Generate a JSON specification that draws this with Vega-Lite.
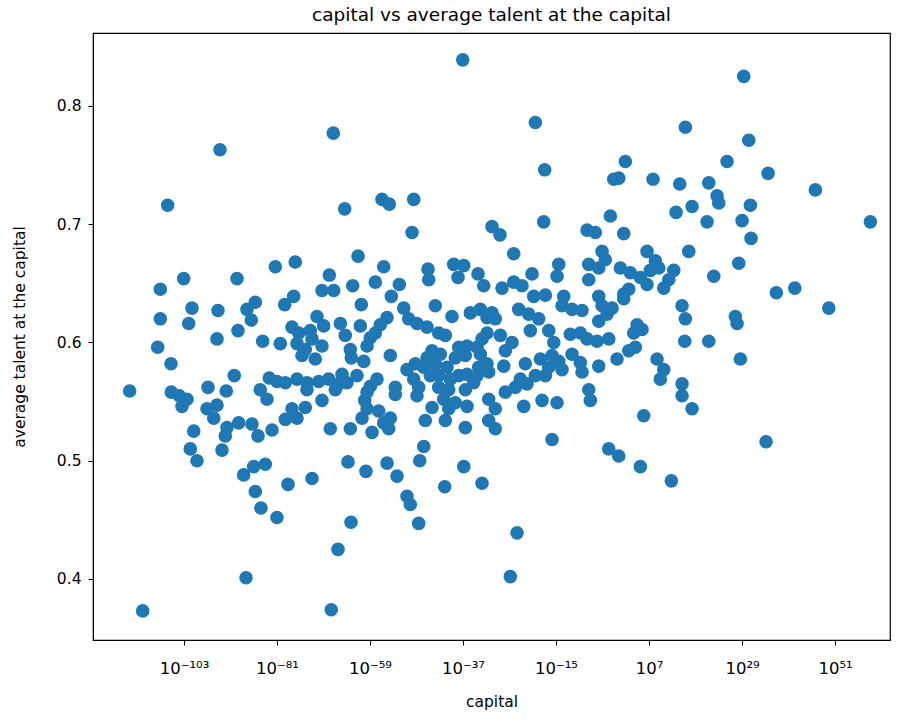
{
"$schema":"https://vega.github.io/schema/vega-lite/v6.json",
"autosize":"none",
"width":797,"height":607,
"padding":{"left":93,"top":33,"right":29,"bottom":85},
"background":"white",
"config":{"font":"DejaVu Sans","view":{"stroke":"black","strokeWidth":1.2},
 "axis":{"grid":false,"domainColor":"black","tickColor":"black","labelColor":"black","titleColor":"black","labelFont":"DejaVu Sans","titleFont":"DejaVu Sans","labelFontSize":15.5,"titleFontSize":15.5,"titleFontWeight":"normal","tickSize":5,"labelPadding":5}},
"title":{"text":"capital vs average talent at the capital","fontSize":18.5,"fontWeight":"normal","font":"DejaVu Sans","color":"black","offset":9},
"data":{"values":[
{"capital":1.4e-116,"talent":0.559},{"capital":1.7e-113,"talent":0.373},{"capital":6e-110,"talent":0.596},{"capital":2.5e-109,"talent":0.645},{"capital":2.5e-109,"talent":0.620},{"capital":1.4e-107,"talent":0.716},{"capital":8.4e-107,"talent":0.582},{"capital":9.9e-107,"talent":0.558},{"capital":7.7e-105,"talent":0.555},{"capital":3.4e-104,"talent":0.546},{"capital":8.5e-104,"talent":0.654},{"capital":5.1e-103,"talent":0.552},{"capital":1.3e-102,"talent":0.616},{"capital":3.1e-102,"talent":0.510},{"capital":7.8e-102,"talent":0.629},{"capital":2e-101,"talent":0.525},{"capital":1.2e-100,"talent":0.500},{"capital":2.8e-98,"talent":0.544},{"capital":4.8e-98,"talent":0.562},{"capital":1.1e-96,"talent":0.536},{"capital":6.4e-96,"talent":0.603},{"capital":6.4e-96,"talent":0.547},{"capital":1.1e-95,"talent":0.627},{"capital":3.3e-95,"talent":0.763},{"capital":9.8e-95,"talent":0.509},{"capital":5.9e-94,"talent":0.521},{"capital":1e-93,"talent":0.559},{"capital":1.5e-93,"talent":0.528},{"capital":7.9e-92,"talent":0.572},{"capital":3.5e-91,"talent":0.654},{"capital":6e-91,"talent":0.610},{"capital":8.7e-91,"talent":0.532},{"capital":1.3e-89,"talent":0.488},{"capital":4.6e-89,"talent":0.401},{"capital":8e-89,"talent":0.628},{"capital":8.3e-88,"talent":0.619},{"capital":1.2e-87,"talent":0.531},{"capital":3.1e-87,"talent":0.495},{"capital":7.4e-87,"talent":0.634},{"capital":7.4e-87,"talent":0.474},{"capital":3.2e-86,"talent":0.521},{"capital":1.1e-85,"talent":0.560},{"capital":1.6e-85,"talent":0.460},{"capital":4.1e-85,"talent":0.601},{"capital":1.7e-84,"talent":0.497},{"capital":4.3e-84,"talent":0.552},{"capital":1.5e-83,"talent":0.570},{"capital":6.6e-83,"talent":0.526},{"capital":4e-82,"talent":0.664},{"capital":1e-81,"talent":0.567},{"capital":1e-81,"talent":0.452},{"capital":6.1e-81,"talent":0.599},{"capital":6.7e-80,"talent":0.632},{"capital":9.2e-80,"talent":0.566},{"capital":9.2e-80,"talent":0.535},{"capital":4e-79,"talent":0.480},{"capital":3.5e-78,"talent":0.613},{"capital":3.5e-78,"talent":0.544},{"capital":8.9e-78,"talent":0.639},{"capital":2.1e-77,"talent":0.668},{"capital":5.4e-77,"talent":0.599},{"capital":5.4e-77,"talent":0.569},{"capital":5.4e-77,"talent":0.536},{"capital":1.4e-76,"talent":0.608},{"capital":8.2e-76,"talent":0.589},{"capital":5e-75,"talent":0.594},{"capital":5e-75,"talent":0.545},{"capital":1.25e-74,"talent":0.566},{"capital":1.25e-74,"talent":0.560},{"capital":7.5e-74,"talent":0.610},{"capital":1.9e-73,"talent":0.603},{"capital":1.9e-73,"talent":0.485},{"capital":1.15e-72,"talent":0.586},{"capital":2.9e-72,"talent":0.622},{"capital":7.3e-72,"talent":0.567},{"capital":4.4e-71,"talent":0.644},{"capital":4.4e-71,"talent":0.597},{"capital":4.4e-71,"talent":0.551},{"capital":1.1e-70,"talent":0.614},{"capital":1.7e-69,"talent":0.569},{"capital":2.4e-69,"talent":0.657},{"capital":4.1e-69,"talent":0.527},{"capital":7e-69,"talent":0.374},{"capital":2.1e-68,"talent":0.777},{"capital":2.6e-68,"talent":0.644},{"capital":6.2e-68,"talent":0.560},{"capital":2.7e-67,"talent":0.425},{"capital":4e-67,"talent":0.565},{"capital":9.5e-67,"talent":0.616},{"capital":2.4e-66,"talent":0.573},{"capital":1.04e-65,"talent":0.713},{"capital":1.4e-65,"talent":0.606},{"capital":3.6e-65,"talent":0.566},{"capital":6.3e-65,"talent":0.499},{"capital":2.2e-64,"talent":0.594},{"capital":2.2e-64,"talent":0.527},{"capital":3.2e-64,"talent":0.448},{"capital":3.8e-64,"talent":0.587},{"capital":8.1e-64,"talent":0.648},{"capital":8.4e-63,"talent":0.572},{"capital":1.5e-62,"talent":0.673},{"capital":5.1e-62,"talent":0.614},{"capital":8.8e-62,"talent":0.632},{"capital":1.3e-61,"talent":0.536},{"capital":3.3e-61,"talent":0.584},{"capital":5.6e-61,"talent":0.551},{"capital":1.1e-60,"talent":0.491},{"capital":2e-60,"talent":0.597},{"capital":2e-60,"talent":0.558},{"capital":2e-60,"talent":0.544},{"capital":1.2e-59,"talent":0.604},{"capital":1.2e-59,"talent":0.563},{"capital":3e-59,"talent":0.524},{"capital":1.8e-58,"talent":0.651},{"capital":1.8e-58,"talent":0.608},{"capital":4.5e-58,"talent":0.569},{"capital":1.15e-57,"talent":0.542},{"capital":2.7e-57,"talent":0.615},{"capital":6.9e-57,"talent":0.721},{"capital":1.75e-56,"talent":0.664},{"capital":1.75e-56,"talent":0.532},{"capital":1.06e-55,"talent":0.621},{"capital":1.06e-55,"talent":0.498},{"capital":2.7e-55,"talent":0.527},{"capital":3.7e-55,"talent":0.717},{"capital":6.4e-55,"talent":0.589},{"capital":6.4e-55,"talent":0.536},{"capital":1.1e-54,"talent":0.639},{"capital":9.7e-54,"talent":0.562},{"capital":9.7e-54,"talent":0.556},{"capital":2.45e-53,"talent":0.487},{"capital":8.6e-53,"talent":0.649},{"capital":9.4e-52,"talent":0.629},{"capital":5.7e-51,"talent":0.577},{"capital":5.7e-51,"talent":0.470},{"capital":1.4e-50,"talent":0.620},{"capital":3.4e-50,"talent":0.463},{"capital":8.7e-50,"talent":0.693},{"capital":2.2e-49,"talent":0.721},{"capital":2.2e-49,"talent":0.569},{"capital":5.2e-49,"talent":0.582},{"capital":1.3e-48,"talent":0.616},{"capital":1.3e-48,"talent":0.555},{"capital":3.3e-48,"talent":0.562},{"capital":3.3e-48,"talent":0.447},{"capital":5.8e-48,"talent":0.500},{"capital":5.1e-47,"talent":0.512},{"capital":5.1e-47,"talent":0.579},{"capital":1.2e-46,"talent":0.534},{"capital":3.1e-46,"talent":0.613},{"capital":3.1e-46,"talent":0.587},{"capital":5.3e-46,"talent":0.662},{"capital":7.7e-46,"talent":0.653},{"capital":1.85e-45,"talent":0.572},{"capital":4.7e-45,"talent":0.593},{"capital":4.7e-45,"talent":0.545},{"capital":2.8e-44,"talent":0.631},{"capital":2.8e-44,"talent":0.582},{"capital":1.8e-43,"talent":0.608},{"capital":1.8e-43,"talent":0.572},{"capital":1.8e-43,"talent":0.562},{"capital":4.3e-43,"talent":0.590},{"capital":2.7e-42,"talent":0.552},{"capital":4.7e-42,"talent":0.478},{"capital":6.5e-42,"talent":0.606},{"capital":6.5e-42,"talent":0.534},{"capital":1.65e-41,"talent":0.579},{"capital":4.2e-41,"talent":0.560},{"capital":4.2e-41,"talent":0.544},{"capital":1e-40,"talent":0.569},{"capital":2.5e-40,"talent":0.622},{"capital":6.4e-40,"talent":0.666},{"capital":1.5e-39,"talent":0.587},{"capital":1.5e-39,"talent":0.549},{"capital":6.6e-39,"talent":0.655},{"capital":9.7e-39,"talent":0.596},{"capital":9.7e-39,"talent":0.572},{"capital":8.6e-38,"talent":0.839},{"capital":1.5e-37,"talent":0.665},{"capital":1.5e-37,"talent":0.495},{"capital":3.5e-37,"talent":0.589},{"capital":3.5e-37,"talent":0.560},{"capital":3.5e-37,"talent":0.528},{"capital":8.9e-37,"talent":0.597},{"capital":8.9e-37,"talent":0.573},{"capital":8.9e-37,"talent":0.546},{"capital":5.4e-36,"talent":0.625},{"capital":3.4e-35,"talent":0.566},{"capital":2.1e-34,"talent":0.596},{"capital":2.1e-34,"talent":0.572},{"capital":3.6e-34,"talent":0.658},{"capital":5.2e-34,"talent":0.579},{"capital":1.25e-33,"talent":0.628},{"capital":1.25e-33,"talent":0.590},{"capital":3.1e-33,"talent":0.603},{"capital":3.1e-33,"talent":0.481},{"capital":7.9e-33,"talent":0.648},{"capital":4.8e-32,"talent":0.621},{"capital":4.8e-32,"talent":0.608},{"capital":4.8e-32,"talent":0.582},{"capital":1.2e-31,"talent":0.575},{"capital":1.2e-31,"talent":0.552},{"capital":1.2e-31,"talent":0.534},{"capital":7.3e-31,"talent":0.698},{"capital":7.3e-31,"talent":0.625},{"capital":4.4e-30,"talent":0.620},{"capital":4.4e-30,"talent":0.544},{"capital":4.4e-30,"talent":0.527},{"capital":5.7e-29,"talent":0.691},{"capital":6.7e-29,"talent":0.606},{"capital":1.7e-28,"talent":0.646},{"capital":4.3e-28,"talent":0.580},{"capital":1.02e-27,"talent":0.593},{"capital":1.02e-27,"talent":0.558},{"capital":1.56e-26,"talent":0.402},{"capital":3.9e-26,"talent":0.600},{"capital":9.9e-26,"talent":0.675},{"capital":9.9e-26,"talent":0.651},{"capital":2.4e-25,"talent":0.562},{"capital":6e-25,"talent":0.439},{"capital":1.5e-24,"talent":0.628},{"capital":3.6e-24,"talent":0.569},{"capital":9.1e-24,"talent":0.648},{"capital":2.3e-23,"talent":0.546},{"capital":5.5e-23,"talent":0.582},{"capital":1.4e-22,"talent":0.565},{"capital":3.5e-22,"talent":0.624},{"capital":8.4e-22,"talent":0.610},{"capital":2.1e-21,"talent":0.658},{"capital":5.3e-21,"talent":0.639},{"capital":1.3e-20,"talent":0.786},{"capital":1.3e-20,"talent":0.572},{"capital":8.1e-20,"talent":0.620},{"capital":1.95e-19,"talent":0.586},{"capital":4.9e-19,"talent":0.551},{"capital":1.24e-18,"talent":0.702},{"capital":2.1e-18,"talent":0.746},{"capital":3e-18,"talent":0.640},{"capital":3e-18,"talent":0.572},{"capital":1.9e-17,"talent":0.610},{"capital":1.9e-17,"talent":0.579},{"capital":1.14e-16,"talent":0.589},{"capital":1.14e-16,"talent":0.518},{"capital":2.9e-16,"talent":0.600},{"capital":1.74e-15,"talent":0.656},{"capital":1.74e-15,"talent":0.549},{"capital":4.4e-15,"talent":0.666},{"capital":4.4e-15,"talent":0.584},{"capital":2.65e-14,"talent":0.631},{"capital":2.65e-14,"talent":0.577},{"capital":6.7e-14,"talent":0.639},{"capital":2.4e-12,"talent":0.607},{"capital":6.2e-12,"talent":0.628},{"capital":6.2e-12,"talent":0.590},{"capital":5.7e-10,"talent":0.608},{"capital":5.7e-10,"talent":0.583},{"capital":1.43e-9,"talent":0.627},{"capital":1.43e-9,"talent":0.575},{"capital":2.2e-8,"talent":0.695},{"capital":2.2e-8,"talent":0.603},{"capital":5.5e-8,"talent":0.666},{"capital":5.5e-8,"talent":0.653},{"capital":5.5e-8,"talent":0.560},{"capital":1.3e-7,"talent":0.551},{"capital":2e-6,"talent":0.693},{"capital":5.1e-6,"talent":0.601},{"capital":1.28e-5,"talent":0.663},{"capital":1.28e-5,"talent":0.639},{"capital":1.28e-5,"talent":0.618},{"capital":1.28e-5,"talent":0.580},{"capital":7.7e-5,"talent":0.677},{"capital":7.7e-5,"talent":0.631},{"capital":4.6e-4,"talent":0.670},{"capital":1.17e-3,"talent":0.624},{"capital":2.97e-3,"talent":0.603},{"capital":2.97e-3,"talent":0.510},{"capital":7.1e-3,"talent":0.707},{"capital":1.8e-2,"talent":0.629},{"capital":4.5e-2,"talent":0.738},{"capital":0.27,"talent":0.586},{"capital":0.69,"talent":0.739},{"capital":0.69,"talent":0.504},{"capital":1.64,"talent":0.663},{"capital":10.5,"talent":0.641},{"capital":10.5,"talent":0.637},{"capital":10.5,"talent":0.692},{"capital":25,"talent":0.753},{"capital":160,"talent":0.645},{"capital":160,"talent":0.593},{"capital":382,"talent":0.659},{"capital":2430,"talent":0.608},{"capital":5820,"talent":0.596},{"capital":14700,"talent":0.615},{"capital":88700,"talent":0.655},{"capital":88700,"talent":0.495},{"capital":224000,"talent":0.611},{"capital":565000,"talent":0.538},{"capital":3.41e6,"talent":0.677},{"capital":3.41e6,"talent":0.649},{"capital":2.06e7,"talent":0.661},{"capital":8.95e7,"talent":0.738},{"capital":3.13e8,"talent":0.669},{"capital":7.9e8,"talent":0.586},{"capital":2e9,"talent":0.663},{"capital":4.78e9,"talent":0.569},{"capital":3.05e10,"talent":0.646},{"capital":3.05e10,"talent":0.577},{"capital":4.65e11,"talent":0.653},{"capital":1.91e12,"talent":0.483},{"capital":7.1e12,"talent":0.661},{"capital":2.48e13,"talent":0.710},{"capital":1.86e14,"talent":0.734},{"capital":6.5e14,"talent":0.631},{"capital":6.5e14,"talent":0.565},{"capital":6.5e14,"talent":0.555},{"capital":2.83e15,"talent":0.601},{"capital":3.93e15,"talent":0.782},{"capital":3.93e15,"talent":0.620},{"capital":2.5e16,"talent":0.677},{"capital":1.51e17,"talent":0.715},{"capital":1.51e17,"talent":0.544},{"capital":5.3e20,"talent":0.702},{"capital":1.35e21,"talent":0.735},{"capital":1.35e21,"talent":0.601},{"capital":2.06e22,"talent":0.656},{"capital":1.24e23,"talent":0.724},{"capital":3.13e23,"talent":0.718},{"capital":2.88e25,"talent":0.753},{"capital":2.65e27,"talent":0.622},{"capital":6.7e27,"talent":0.616},{"capital":1.69e28,"talent":0.667},{"capital":4.04e28,"talent":0.586},{"capital":1.02e29,"talent":0.703},{"capital":2.57e29,"talent":0.825},{"capital":3.92e30,"talent":0.771},{"capital":9.4e30,"talent":0.716},{"capital":1.36e31,"talent":0.688},{"capital":4.83e34,"talent":0.516},{"capital":1.44e35,"talent":0.743},{"capital":1.32e37,"talent":0.642},{"capital":2.98e41,"talent":0.646},{"capital":2.22e46,"talent":0.729},{"capital":3.29e49,"talent":0.629},{"capital":2.28e59,"talent":0.702}
]},
"mark":{"type":"point","filled":true,"shape":"circle","size":185,"color":"#1f77b4","opacity":1,"strokeWidth":0},
"encoding":{
 "x":{"field":"capital","type":"quantitative","title":"capital",
  "scale":{"type":"log","domain":[3e-125,1e64],"nice":false,"zero":false},
  "axis":{"values":[1e-103,1e-81,1e-59,1e-37,1e-15,1e7,1e29,1e51],"labelFontSize":16.5,"labelPadding":15,"titlePadding":18,
   "labelExpr":"{'-103':'10⁻¹⁰³','-81':'10⁻⁸¹','-59':'10⁻⁵⁹','-37':'10⁻³⁷','-15':'10⁻¹⁵','7':'10⁷','29':'10²⁹','51':'10⁵¹'}[''+round(log(datum.value)/LN10)]"}},
 "y":{"field":"talent","type":"quantitative","title":"average talent at the capital",
  "scale":{"domain":[0.3484,0.8617],"nice":false,"zero":false},
  "axis":{"values":[0.4,0.5,0.6,0.7,0.8],"format":".1f","labelPadding":7,"titlePadding":29}}
}
}
